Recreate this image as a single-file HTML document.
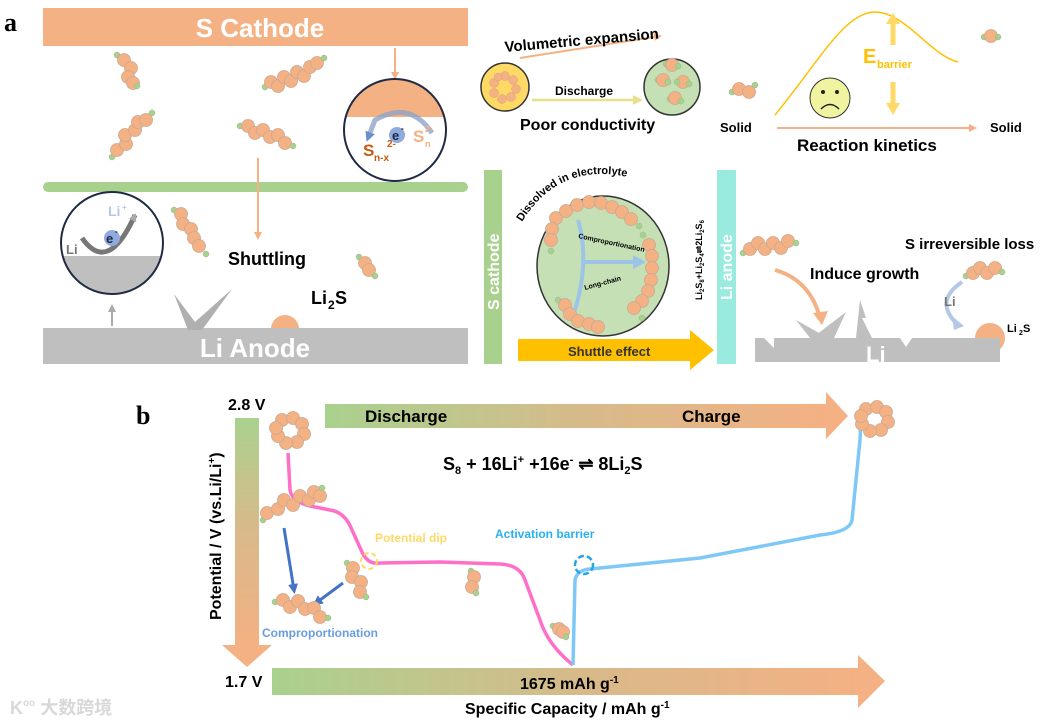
<!DOCTYPE html>
<html><head><meta charset="utf-8"><style>
html,body{margin:0;padding:0;background:#fff}
svg{display:block}
text{font-family:"Liberation Sans",Arial,sans-serif;font-weight:bold}
</style></head><body>
<svg width="1050" height="724" viewBox="0 0 1050 724" xmlns="http://www.w3.org/2000/svg">
<defs>
<symbol id="b" overflow="visible"><circle r="6.5" fill="#f4b183" stroke="#c8a894" stroke-width="0.8"/></symbol>
<symbol id="g" overflow="visible"><circle r="3" fill="#a9d18e" stroke="#9bb58a" stroke-width="0.5"/></symbol>
<linearGradient id="gh" x1="0" x2="1" y1="0" y2="0"><stop offset="0" stop-color="#a9d18e"/><stop offset="0.55" stop-color="#d9b98a"/><stop offset="1" stop-color="#f4b183"/></linearGradient>
<linearGradient id="gv" x1="0" x2="0" y1="0" y2="1"><stop offset="0" stop-color="#a9d18e"/><stop offset="0.5" stop-color="#d9b98a"/><stop offset="1" stop-color="#f4b183"/></linearGradient>
<marker id="ao" markerWidth="8" markerHeight="8" refX="6" refY="4" orient="auto" markerUnits="userSpaceOnUse"><path d="M0,0 L8,4 L0,8 z" fill="#f4b183"/></marker>
<marker id="ay" markerWidth="10" markerHeight="10" refX="7" refY="5" orient="auto" markerUnits="userSpaceOnUse"><path d="M0,0 L10,5 L0,10 z" fill="#e8e08a"/></marker>
<marker id="ag" markerWidth="8" markerHeight="8" refX="6" refY="4" orient="auto" markerUnits="userSpaceOnUse"><path d="M0,0 L8,4 L0,8 z" fill="#aaa"/></marker>
<marker id="ab" markerWidth="10" markerHeight="10" refX="6" refY="5" orient="auto" markerUnits="userSpaceOnUse"><path d="M0,0 L10,5 L0,10 z" fill="#4472c4"/></marker>
<path id="arcp" d="M522,222 Q560,160 632,178"/>
</defs>

<text x="4" y="31" font-size="26" style="font-family:'Liberation Serif',serif">a</text>

<rect x="43" y="8" width="425" height="38" fill="#f4b183"/>
<text x="260" y="37" font-size="26" fill="#fff" text-anchor="middle">S Cathode</text>
<line x1="395" y1="48" x2="395" y2="78" stroke="#f4b183" stroke-width="2" marker-end="url(#ao)"/>
<rect x="43" y="182" width="425" height="10" rx="5" fill="#a9d18e"/>
<circle cx="285" cy="329" r="14" fill="#f4b183"/>
<rect x="43" y="328" width="425" height="36" fill="#bfbfbf"/>
<text x="255" y="357" font-size="26" fill="#fff" text-anchor="middle">Li Anode</text>
<polygon points="174,294 195,322 232,289 202,330 188,330" fill="#b0b0b0"/>
<line x1="112" y1="326" x2="112" y2="306" stroke="#aaa" stroke-width="2" marker-end="url(#ag)"/>

<clipPath id="c1"><circle cx="395" cy="130" r="51"/></clipPath>
<circle cx="395" cy="130" r="51" fill="#fff"/>
<rect x="340" y="75" width="110" height="42" fill="#f4b183" clip-path="url(#c1)"/>
<circle cx="395" cy="130" r="51" fill="none" stroke="#1f2a44" stroke-width="2"/>
<path d="M432,133 Q410,100 375,120 L368,138" fill="none" stroke="#8fa5c8" stroke-width="5" marker-end="url(#ab)" opacity="0.8"/>
<circle cx="397" cy="135" r="8" fill="#8faadc"/><text x="392" y="140" font-size="13" fill="#1f2a44">e</text><text x="401" y="131" font-size="8">-</text>
<text x="413" y="142" font-size="17" fill="#f4b183">S</text><text x="425" y="147" font-size="9" fill="#f4b183">n</text><text x="425" y="132" font-size="9" fill="#f4b183">2-</text>
<text x="363" y="156" font-size="17" fill="#c55a11">S</text><text x="374" y="161" font-size="10" fill="#c55a11">n-x</text><text x="387" y="147" font-size="10" fill="#c55a11">2-</text>

<clipPath id="c2"><circle cx="112" cy="243" r="51"/></clipPath>
<circle cx="112" cy="243" r="51" fill="#fff"/>
<rect x="55" y="256" width="115" height="50" fill="#bfbfbf" clip-path="url(#c2)"/>
<circle cx="112" cy="243" r="51" fill="none" stroke="#1f2a44" stroke-width="2"/>
<path d="M82,238 Q108,275 135,215" fill="none" stroke="#777" stroke-width="5" marker-end="url(#ag)"/>
<circle cx="112" cy="238" r="8" fill="#8faadc"/><text x="106" y="243" font-size="13" fill="#1f2a44">e</text><text x="115" y="234" font-size="8">-</text>
<text x="108" y="216" font-size="14" fill="#b4c7e7">Li</text><text x="122" y="210" font-size="8" fill="#b4c7e7">+</text>
<text x="66" y="254" font-size="13" fill="#777">Li</text>

<line x1="258" y1="158" x2="258" y2="238" stroke="#f4b183" stroke-width="2" marker-end="url(#ao)"/>
<text x="228" y="265" font-size="18">Shuttling</text>
<text x="311" y="304" font-size="18">Li</text><text x="328" y="309" font-size="12">2</text><text x="335" y="304" font-size="18">S</text>

<use href="#g" x="117" y="55"/><use href="#b" x="124" y="60"/><use href="#b" x="131" y="68"/><use href="#b" x="128" y="77"/><use href="#b" x="133" y="83"/><use href="#g" x="137" y="86"/>
<use href="#g" x="265" y="87"/><use href="#b" x="271" y="82"/><use href="#b" x="278" y="86"/><use href="#b" x="284" y="77"/><use href="#b" x="291" y="81"/><use href="#b" x="297" y="72"/><use href="#b" x="304" y="76"/><use href="#b" x="310" y="67"/><use href="#b" x="317" y="63"/><use href="#g" x="324" y="58"/>
<use href="#g" x="112" y="157"/><use href="#b" x="117" y="150"/><use href="#b" x="126" y="144"/><use href="#b" x="125" y="135"/><use href="#b" x="135" y="130"/><use href="#b" x="138" y="122"/><use href="#b" x="146" y="120"/><use href="#g" x="152" y="113"/>
<use href="#g" x="240" y="126"/><use href="#b" x="248" y="126"/><use href="#b" x="255" y="133"/><use href="#b" x="263" y="130"/><use href="#b" x="270" y="137"/><use href="#b" x="278" y="135"/><use href="#b" x="285" y="143"/><use href="#g" x="293" y="146"/>
<use href="#g" x="174" y="210"/><use href="#b" x="181" y="214"/><use href="#b" x="183" y="224"/><use href="#b" x="191" y="229"/><use href="#b" x="194" y="238"/><use href="#b" x="199" y="246"/><use href="#g" x="206" y="254"/>
<use href="#g" x="359" y="257"/><use href="#b" x="365" y="263"/><use href="#b" x="369" y="270"/><use href="#g" x="375" y="276"/>

<circle cx="505" cy="87" r="24" fill="#ffd966" stroke="#333" stroke-width="1.5"/>
<g fill="#f4b183" stroke="#d9a07a" stroke-width="0.5"><circle cx="505" cy="76" r="4.5"/><circle cx="513" cy="80" r="4.5"/><circle cx="516" cy="89" r="4.5"/><circle cx="511" cy="97" r="4.5"/><circle cx="502" cy="99" r="4.5"/><circle cx="494" cy="93" r="4.5"/><circle cx="494" cy="83" r="4.5"/><circle cx="498" cy="77" r="4"/></g>
<line x1="520" y1="58" x2="660" y2="36" stroke="#f4b183" stroke-width="2" marker-end="url(#ao)"/>
<text x="505" y="52" font-size="15" transform="rotate(-5 505 52)">Volumetric expansion</text>
<line x1="532" y1="100" x2="640" y2="100" stroke="#e8e08a" stroke-width="2.5" marker-end="url(#ay)"/>
<text x="555" y="95" font-size="12">Discharge</text>
<circle cx="672" cy="87" r="28" fill="#c5e0b4" stroke="#333" stroke-width="1.5"/>
<g><use href="#g" x="666" y="64"/><use href="#b" x="672" y="65"/><use href="#g" x="678" y="66"/>
<use href="#g" x="658" y="80"/><use href="#b" x="663" y="80"/><use href="#g" x="668" y="82"/>
<use href="#b" x="683" y="82"/><use href="#g" x="689" y="84"/><use href="#g" x="677" y="82"/>
<use href="#g" x="670" y="99"/><use href="#b" x="675" y="98"/><use href="#g" x="681" y="101"/></g>
<text x="520" y="130" font-size="16">Poor conductivity</text>
<use href="#g" x="732" y="92"/><use href="#b" x="739" y="89"/><use href="#b" x="749" y="92"/><use href="#g" x="755" y="85"/>
<text x="720" y="132" font-size="13">Solid</text>
<path d="M775,115 C820,60 845,12 875,12 C905,12 930,55 958,62" fill="none" stroke="#ffc000" stroke-width="1.5"/>
<line x1="777" y1="128" x2="975" y2="128" stroke="#f4b183" stroke-width="2" marker-end="url(#ao)"/>
<text x="990" y="132" font-size="13">Solid</text>
<text x="797" y="151" font-size="17">Reaction kinetics</text>
<circle cx="830" cy="98" r="20" fill="#f0f4a0" stroke="#333" stroke-width="1"/>
<circle cx="823" cy="92" r="2" fill="#222"/><circle cx="837" cy="92" r="2" fill="#222"/>
<path d="M821,109 Q830,100 839,109" fill="none" stroke="#222" stroke-width="1.5"/>
<line x1="893" y1="45" x2="893" y2="22" stroke="#ffd966" stroke-width="5"/><path d="M886,24 L893,13 L900,24z" fill="#ffd966"/>
<line x1="893" y1="82" x2="893" y2="105" stroke="#ffd966" stroke-width="5"/><path d="M886,103 L893,115 L900,103z" fill="#ffd966"/>
<text x="863" y="63" font-size="20" fill="#ffc000">E</text><text x="877" y="68" font-size="11" fill="#ffc000">barrier</text>
<use href="#g" x="984" y="37"/><use href="#b" x="991" y="36"/><use href="#g" x="998" y="37"/>

<rect x="484" y="170" width="18" height="194" fill="#a9d18e"/>
<text transform="translate(499 310) rotate(-90)" font-size="16" fill="#fff">S cathode</text>
<rect x="717" y="170" width="19" height="194" fill="#99ebe0"/>
<text transform="translate(732 300) rotate(-90)" font-size="16" fill="#fff">Li anode</text>
<ellipse cx="603" cy="266" rx="66" ry="70" fill="#c5e0b4" stroke="#333" stroke-width="1.5"/>
<text font-size="11"><textPath href="#arcp">Dissolved in electrolyte</textPath></text>
<g>
<use href="#b" x="556" y="218"/><use href="#b" x="566" y="211"/><use href="#b" x="577" y="205"/><use href="#b" x="589" y="202"/><use href="#b" x="601" y="203"/><use href="#b" x="612" y="207"/><use href="#b" x="622" y="212"/><use href="#b" x="631" y="219"/><use href="#g" x="639" y="226"/>
<use href="#b" x="552" y="229"/><use href="#b" x="551" y="240"/><use href="#g" x="551" y="251"/>
<use href="#g" x="643" y="235"/><use href="#b" x="649" y="245"/><use href="#b" x="652" y="256"/><use href="#b" x="652" y="268"/><use href="#b" x="651" y="280"/><use href="#b" x="648" y="291"/><use href="#b" x="642" y="301"/><use href="#b" x="634" y="308"/><use href="#g" x="642" y="318"/>
<use href="#g" x="558" y="300"/><use href="#b" x="565" y="305"/><use href="#b" x="570" y="314"/><use href="#b" x="578" y="321"/><use href="#b" x="589" y="324"/><use href="#b" x="598" y="327"/>
</g>
<path d="M578,220 Q590,260 575,310" fill="none" stroke="#9dc3e6" stroke-width="4"/>
<line x1="585" y1="262" x2="636" y2="262" stroke="#9dc3e6" stroke-width="4"/><path d="M633,255 L646,262 L633,269z" fill="#9dc3e6"/>
<text x="578" y="238" font-size="7" transform="rotate(12 578 238)">Comproportionation</text>
<text x="585" y="290" font-size="7" transform="rotate(-15 585 290)">Long-chain</text>
<text transform="translate(702 300) rotate(-90)" font-size="9">Li<tspan font-size="6" dy="2">2</tspan><tspan dy="-2">S</tspan><tspan font-size="6" dy="2">8</tspan><tspan dy="-2">+Li</tspan><tspan font-size="6" dy="2">2</tspan><tspan dy="-2">S</tspan><tspan font-size="6" dy="2">4</tspan><tspan dy="-2">⇌2Li</tspan><tspan font-size="6" dy="2">2</tspan><tspan dy="-2">S</tspan><tspan font-size="6" dy="2">6</tspan></text>
<rect x="518" y="339" width="175" height="22" fill="#ffc000"/><path d="M690,330 L714,350 L690,370z" fill="#ffc000"/>
<text x="568" y="356" font-size="13" fill="#333">Shuttle effect</text>

<circle cx="990" cy="338" r="15" fill="#f4b183"/>
<polygon points="796,320 810,338 828,338" fill="#bfbfbf"/>
<polygon points="812,338 846,312 834,338" fill="#bfbfbf"/>
<polygon points="856,338 860,300 866,318 862,318 872,338" fill="#bfbfbf"/>
<rect x="755" y="338" width="245" height="24" fill="#bfbfbf"/>
<polygon points="764,338 774,338 774,348" fill="#fff"/>
<polygon points="900,338 912,338 906,347" fill="#fff"/>
<text x="866" y="362" font-size="22" fill="#fff">Li</text>
<text x="1007" y="332" font-size="11">Li</text><text x="1019" y="335" font-size="7">2</text><text x="1023" y="332" font-size="11">S</text>
<use href="#g" x="743" y="253"/><use href="#b" x="750" y="249"/><use href="#b" x="758" y="243"/><use href="#b" x="765" y="249"/><use href="#b" x="773" y="243"/><use href="#b" x="781" y="248"/><use href="#b" x="788" y="241"/><use href="#g" x="796" y="243"/>
<path d="M775,270 Q810,280 820,318" fill="none" stroke="#f4b183" stroke-width="4"/><path d="M813,313 L822,325 L828,311z" fill="#f4b183"/>
<text x="810" y="279" font-size="16">Induce growth</text>
<text x="905" y="249" font-size="15">S irreversible loss</text>
<use href="#g" x="966" y="276"/><use href="#b" x="973" y="273"/><use href="#b" x="980" y="268"/><use href="#b" x="987" y="273"/><use href="#b" x="995" y="268"/><use href="#g" x="1002" y="272"/>
<path d="M962,282 Q935,300 955,322" fill="none" stroke="#b4c7e7" stroke-width="4"/><path d="M952,316 L964,326 L954,330z" fill="#b4c7e7"/>
<text x="944" y="306" font-size="13" fill="#777">Li</text>

<text x="136" y="424" font-size="26" style="font-family:'Liberation Serif',serif">b</text>
<text x="228" y="410" font-size="16">2.8 V</text>
<text x="225" y="687" font-size="16">1.7 V</text>
<rect x="235" y="418" width="24" height="228" fill="url(#gv)"/>
<path d="M222,645 L272,645 L247,667z" fill="#f4b183"/>
<rect x="325" y="404" width="503" height="24" fill="url(#gh)"/>
<path d="M826,392 L848,416 L826,439z" fill="#f4b183"/>
<text x="365" y="422" font-size="17">Discharge</text>
<text x="682" y="422" font-size="17">Charge</text>
<rect x="272" y="668" width="588" height="27" fill="url(#gh)"/>
<path d="M858,655 L885,681 L858,708z" fill="#f4b183"/>
<text x="520" y="689" font-size="16">1675 mAh g<tspan font-size="10" dy="-6">-1</tspan></text>
<text x="465" y="714" font-size="16">Specific Capacity / mAh g<tspan font-size="10" dy="-6">-1</tspan></text>
<text transform="translate(221 620) rotate(-90)" font-size="16">Potential / V (vs.Li/Li<tspan font-size="10" dy="-6">+</tspan><tspan dy="6">)</tspan></text>
<text x="443" y="470" font-size="18">S<tspan font-size="11" dy="4">8</tspan><tspan dy="-4"> + 16Li</tspan><tspan font-size="11" dy="-7">+</tspan><tspan dy="7"> +16e</tspan><tspan font-size="11" dy="-7">-</tspan><tspan dy="7"> ⇌ 8Li</tspan><tspan font-size="11" dy="4">2</tspan><tspan dy="-4">S</tspan></text>

<path d="M288,453 L290,490 Q292,502 310,506 L330,510 Q345,512 352,530 L362,552 Q368,565 380,563 L440,562 L500,564 Q520,565 525,580 L540,620 Q548,645 573,665" fill="none" stroke="#ff6fc8" stroke-width="3.5"/>
<path d="M573,665 L575,580 Q577,570 590,569 L700,558 L820,535 Q850,532 852,520 L860,440 L861,418" fill="none" stroke="#7ec8f8" stroke-width="3.5"/>
<circle cx="369" cy="561" r="8" fill="none" stroke="#ffd966" stroke-width="2" stroke-dasharray="5 3"/>
<circle cx="584" cy="565" r="9" fill="none" stroke="#29a3e8" stroke-width="2.5" stroke-dasharray="6 3"/>
<text x="375" y="542" font-size="12" fill="#ffd966">Potential dip</text>
<text x="495" y="538" font-size="12" fill="#29b0f0">Activation barrier</text>
<text x="262" y="637" font-size="12" fill="#6a9de0">Comproportionation</text>
<line x1="284" y1="528" x2="294" y2="590" stroke="#4472c4" stroke-width="3" marker-end="url(#ab)"/>
<line x1="343" y1="583" x2="316" y2="603" stroke="#4472c4" stroke-width="3" marker-end="url(#ab)"/>

<g><use href="#b" x="282" y="420"/><use href="#b" x="293" y="418"/><use href="#b" x="302" y="424"/><use href="#b" x="304" y="434"/><use href="#b" x="297" y="442"/><use href="#b" x="286" y="443"/><use href="#b" x="278" y="436"/><use href="#b" x="276" y="428"/></g>
<g><use href="#b" x="866" y="409"/><use href="#b" x="877" y="407"/><use href="#b" x="886" y="412"/><use href="#b" x="888" y="422"/><use href="#b" x="881" y="430"/><use href="#b" x="870" y="431"/><use href="#b" x="862" y="424"/><use href="#b" x="861" y="416"/></g>
<use href="#g" x="263" y="520"/><use href="#b" x="267" y="513"/><use href="#b" x="278" y="509"/><use href="#b" x="284" y="500"/><use href="#b" x="293" y="505"/><use href="#b" x="300" y="496"/><use href="#b" x="309" y="500"/><use href="#b" x="314" y="492"/><use href="#b" x="320" y="496"/><use href="#g" x="322" y="488"/>
<use href="#g" x="275" y="602"/><use href="#b" x="283" y="600"/><use href="#b" x="290" y="607"/><use href="#b" x="298" y="601"/><use href="#b" x="305" y="609"/><use href="#b" x="314" y="608"/><use href="#b" x="320" y="617"/><use href="#g" x="328" y="618"/>
<use href="#g" x="347" y="563"/><use href="#b" x="353" y="568"/><use href="#b" x="352" y="577"/><use href="#b" x="361" y="582"/><use href="#b" x="360" y="592"/><use href="#g" x="366" y="597"/>
<use href="#g" x="471" y="571"/><use href="#b" x="474" y="577"/><use href="#b" x="472" y="587"/><use href="#g" x="476" y="593"/>
<use href="#g" x="553" y="626"/><use href="#b" x="559" y="629"/><use href="#b" x="563" y="632"/><use href="#g" x="566" y="637"/>

<text x="10" y="714" font-size="18" fill="#d8d8d8" style="font-family:'Liberation Sans','Noto Sans CJK SC',sans-serif">K<tspan font-size="10" dy="-8">oo</tspan><tspan dy="8"> 大数跨境</tspan></text>
</svg>
</body></html>
